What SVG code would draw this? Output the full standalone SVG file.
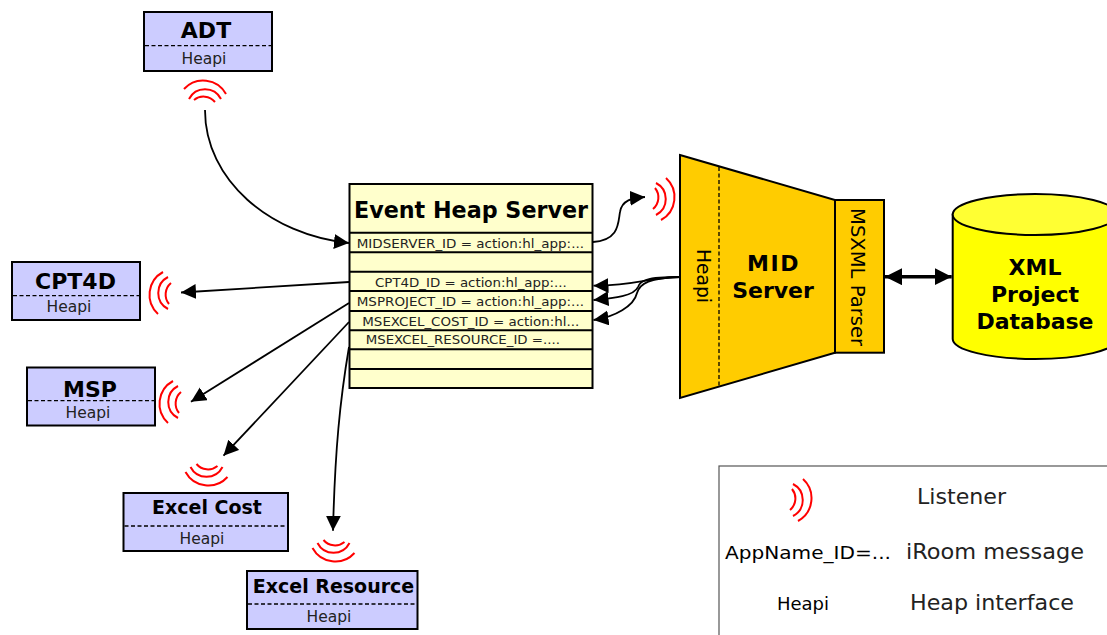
<svg xmlns="http://www.w3.org/2000/svg" width="1107" height="635" viewBox="0 0 1107 635">
<style>
text{font-family:"DejaVu Sans",Verdana,sans-serif;fill:#000}
.box{fill:#CCCCFF;stroke:#000;stroke-width:2}
.dash{stroke:#000;stroke-width:1.3;stroke-dasharray:4 2.5;fill:none}
.name{font-weight:bold;text-anchor:middle}
.hp{font-size:15.500px;text-anchor:middle;fill:#222}
.row{fill:#FFFFCC;stroke:#000;stroke-width:2}
.msg{font-size:12px;fill:#222}
.arc{fill:none;stroke:#FF0000;stroke-width:2}
.con{fill:none;stroke:#000;stroke-width:1.800;marker-end:url(#ah)}
.big{font-weight:bold;font-size:22px;text-anchor:middle}
.leg{font-size:21px;fill:#222}
</style>
<defs>
<marker id="ah" markerUnits="userSpaceOnUse" markerWidth="17" markerHeight="16" refX="15" refY="7.500" orient="auto"><path d="M0,0L15,7.500L0,15Z" fill="#000"/></marker>
<marker id="dh" markerUnits="userSpaceOnUse" markerWidth="18" markerHeight="18" refX="17" refY="8.500" orient="auto-start-reverse"><path d="M0,0L17,8.500L0,17Z" fill="#000"/></marker>
<g id="wave"><path class="arc" d="M-10,10A15,15 0 0 0 -8,-11"/><path class="arc" d="M-7,16A18,18 0 0 0 -7,-16"/><path class="arc" d="M-2,21A26,26 0 0 0 3,-21"/></g>
</defs>

<g id="adt"><rect class="box" x="144" y="12" width="128" height="59"/><path class="dash" d="M145,45.700H271"/><text class="name" x="206" y="38" font-size="22">ADT</text><text class="hp" x="204" y="64">Heapi</text><use href="#wave" transform="translate(205,92) rotate(-90)"/></g>
<g id="cpt4d"><rect class="box" x="12" y="262" width="128" height="58"/><path class="dash" d="M13,295.700H139"/><text class="name" x="75.500" y="289" font-size="22">CPT4D</text><text class="hp" x="69" y="311.700">Heapi</text><use href="#wave" transform="translate(161,293) rotate(180)"/></g>
<g id="msp"><rect class="box" x="27" y="367.500" width="128" height="58"/><path class="dash" d="M28,400.700H154"/><text class="name" x="90" y="396.700" font-size="22">MSP</text><text class="hp" x="88" y="417.700">Heapi</text><use href="#wave" transform="translate(171,402) rotate(180)"/></g>
<g id="excel-cost"><rect class="box" x="123.500" y="493" width="164.500" height="58"/><path class="dash" d="M124.500,526H287"/><text class="name" x="207" y="514" font-size="19">Excel Cost</text><text class="hp" x="202" y="544">Heapi</text><use href="#wave" transform="translate(206.500,474) rotate(90)"/></g>
<g id="excel-resource"><rect class="box" x="247" y="571" width="170.500" height="58"/><path class="dash" d="M248,604H416.500"/><text class="name" x="333.500" y="592.700" font-size="19">Excel Resource</text><text class="hp" x="329" y="622">Heapi</text><use href="#wave" transform="translate(333.500,550) rotate(90)"/></g>

<g id="event-heap-server">
<rect class="row" x="349.500" y="184" width="243" height="204"/>
<path d="M349.500,232.700H592.500M349.500,252.300H592.500M349.500,271.700H592.500M349.500,291H592.500M349.500,311H592.500M349.500,330.300H592.500M349.500,349.300H592.500M349.500,369H592.500" fill="none" stroke="#000" stroke-width="2"/>
<text x="354" y="217.700" font-size="23" font-weight="bold" textLength="234" lengthAdjust="spacingAndGlyphs">Event Heap Server</text>
<text class="msg" x="356.700" y="248" textLength="227.300" lengthAdjust="spacingAndGlyphs">MIDSERVER_ID = action:hl_app:...</text>
<text class="msg" x="375" y="287.300" textLength="191.700" lengthAdjust="spacingAndGlyphs">CPT4D_ID = action:hl_app:...</text>
<text class="msg" x="356.700" y="306" textLength="227.300" lengthAdjust="spacingAndGlyphs">MSPROJECT_ID = action:hl_app:...</text>
<text class="msg" x="362.300" y="326" textLength="217" lengthAdjust="spacingAndGlyphs">MSEXCEL_COST_ID = action:hl...</text>
<text class="msg" x="365.700" y="344" textLength="194.300" lengthAdjust="spacingAndGlyphs">MSEXCEL_RESOURCE_ID =....</text>
</g>

<g id="mid-server">
<path d="M680,155L835,200V352.700L680,398Z" fill="#FFCC00" stroke="#000" stroke-width="2"/>
<path class="dash" d="M719,167V386"/>
<text transform="translate(696.500,276) rotate(90)" font-size="19" text-anchor="middle" fill="#222" textLength="54" lengthAdjust="spacingAndGlyphs">Heapi</text>
<text x="773.500" y="270.700" class="big" letter-spacing="1.500">MID</text>
<text x="773" y="297.700" class="big">Server</text>
<use href="#wave" transform="translate(663,199)"/>
</g>
<g id="msxml-parser">
<rect x="835" y="200" width="49" height="152.700" fill="#FFCC00" stroke="#000" stroke-width="2"/>
<text transform="translate(851,277) rotate(90)" font-size="20" text-anchor="middle" fill="#222" textLength="138" lengthAdjust="spacingAndGlyphs">MSXML Parser</text>
</g>
<g id="xml-database">
<path d="M952.700,214.500V339C952.700,350 990,359 1035,359S1117,350 1117,339V214.500Z" fill="#FFFF00" stroke="#000" stroke-width="2"/>
<ellipse cx="1035" cy="214.500" rx="82.300" ry="20.500" fill="#FFFF33" stroke="#000" stroke-width="2"/>
<text x="1035" y="274.700" class="big">XML</text>
<text x="1035" y="301.700" class="big">Project</text>
<text x="1035" y="328.700" class="big">Database</text>
</g>

<g id="connectors">
<path class="con" d="M205,110C205,180 270,235 349,243"/>
<path class="con" d="M593,242C620,240 618,222 620,212C622,200 632,198 645,197"/>
<path class="con" d="M349,282L181,292.500"/>
<path class="con" d="M349,303L191,401.700"/>
<path class="con" d="M349,322L223.500,455.700"/>
<path class="con" d="M349,347C340,400 335,450 333,530.700"/>
<path class="con" d="M680,277C650,277 640,285 593.500,285.700"/>
<path class="con" d="M680,277C645,277 640,281 638,287C634,296 615,298 593.500,300"/>
<path class="con" d="M680,277C650,278 640,283 637,293C634,306 615,317 593.500,320"/>
<path d="M885,276.700H951.700" fill="none" stroke="#000" stroke-width="3.500" marker-start="url(#dh)" marker-end="url(#dh)"/>
</g>

<g id="legend">
<rect x="719" y="466" width="420" height="200" fill="#fff" stroke="#555" stroke-width="1.200"/>
<use href="#wave" transform="translate(800,500)"/>
<text class="leg" x="917" y="504" textLength="89" lengthAdjust="spacingAndGlyphs">Listener</text>
<text x="725" y="558.700" font-size="18" fill="#222" textLength="166" lengthAdjust="spacingAndGlyphs">AppName_ID=...</text>
<text class="leg" x="906" y="558.700" textLength="178" lengthAdjust="spacingAndGlyphs">iRoom message</text>
<text x="803" y="610" font-size="18" text-anchor="middle" fill="#222">Heapi</text>
<text class="leg" x="910" y="610" textLength="164" lengthAdjust="spacingAndGlyphs">Heap interface</text>
</g>
</svg>
